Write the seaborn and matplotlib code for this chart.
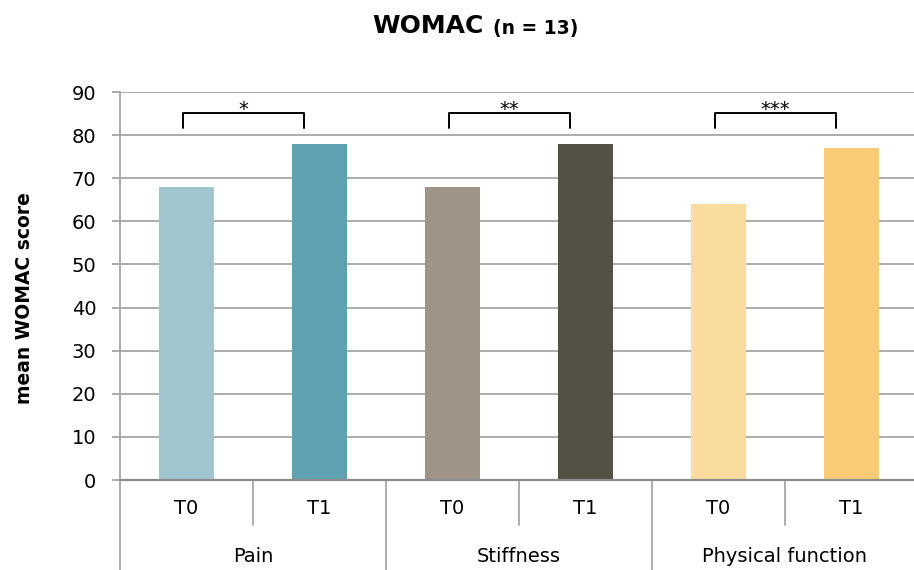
import matplotlib
matplotlib.use("Agg")
import matplotlib.pyplot as plt
import pandas as pd
import seaborn as sns

# ------------------- data

groups = ["Pain", "Stiffness", "Physical function"]
times = ["T0", "T1"]
pain = [68, 78]
stiffness = [68, 78]
physical = [64, 77]
stars = ["*", "**", "***"]
colors = ["#a1c5cf", "#5fa1b0", "#9e9588", "#545046", "#fbdc9f", "#f8cb74"]

rows = []
for g, vals in zip(groups, [pain, stiffness, physical]):
    for t, v in zip(times, vals):
        rows.append({"slot": f"{g} {t}", "group": g, "time": t, "score": v})
df = pd.DataFrame(rows)

# ------------------- plot

sns.set_style("white")
plt.rcParams["font.family"] = ["DejaVu Sans"]
plt.rcParams["text.color"] = "black"
plt.rcParams["axes.labelcolor"] = "black"

fig = plt.figure(figsize=(9.14, 5.70), dpi=100)
ax = fig.add_axes([120 / 914, 90 / 570, 798 / 914, 388 / 570])

sns.barplot(data=df, x="slot", y="score", hue="slot", palette=colors,
            width=0.41, legend=False, ax=ax, saturation=1, linewidth=0)

ax.set_ylim(0, 90)
ax.set_xlim(-0.5, 5.5)
ax.set_yticks(range(0, 91, 10))
ax.yaxis.grid(True, color="#a6a6a6", lw=1.3)
ax.set_axisbelow(True)
ax.tick_params(axis="y", labelsize=14, length=6, color="#a6a6a6", width=1.3, pad=11,
               left=True, labelcolor="black")
ax.tick_params(axis="x", length=0, labelsize=14, pad=14, labelcolor="black")
ax.set_xticks(range(6))
ax.set_xticklabels(df["time"])
for s in ["top", "right"]:
    ax.spines[s].set_visible(False)
ax.spines["left"].set_color("#a6a6a6")
ax.spines["left"].set_linewidth(1.3)
ax.spines["bottom"].set_color("#8c8c8c")
ax.spines["bottom"].set_linewidth(1.6)
ax.set_xlabel("")
ax.set_ylabel("mean WOMAC score", fontsize=13.5, fontweight="bold")
ax.yaxis.set_label_coords(-0.108, 0.469)

# separators and group labels below axis
trans = ax.get_xaxis_transform()
for i in range(3):
    ax.plot([2 * i - 0.5, 2 * i - 0.5], [0, -0.235], transform=trans, color="#a6a6a6",
            lw=1.3, clip_on=False)
    ax.plot([2 * i + 0.5, 2 * i + 0.5], [0, -0.117], transform=trans, color="#a6a6a6",
            lw=1.3, clip_on=False)
    ax.text(2 * i + 0.5, -0.196, groups[i], transform=trans, ha="center", va="center",
            fontsize=14)

# significance brackets
for i, s in enumerate(stars):
    x0 = 2 * i - 0.03
    x1 = 2 * i + 0.88
    ax.plot([x0, x0, x1, x1], [81.6, 85.2, 85.2, 81.6], color="black", lw=1.4,
            solid_joinstyle="round", clip_on=False)
    ax.text((x0 + x1) / 2, 84.7, s, ha="center", va="baseline", fontsize=14)

fig.text(372 / 914, 1 - 33 / 570, "WOMAC", ha="left", va="baseline", fontsize=18,
         fontweight="bold")
fig.text(493 / 914, 1 - 34 / 570, "(n = 13)", ha="left", va="baseline", fontsize=13.5,
         fontweight="bold")

fig.savefig("out.png", dpi=100)
